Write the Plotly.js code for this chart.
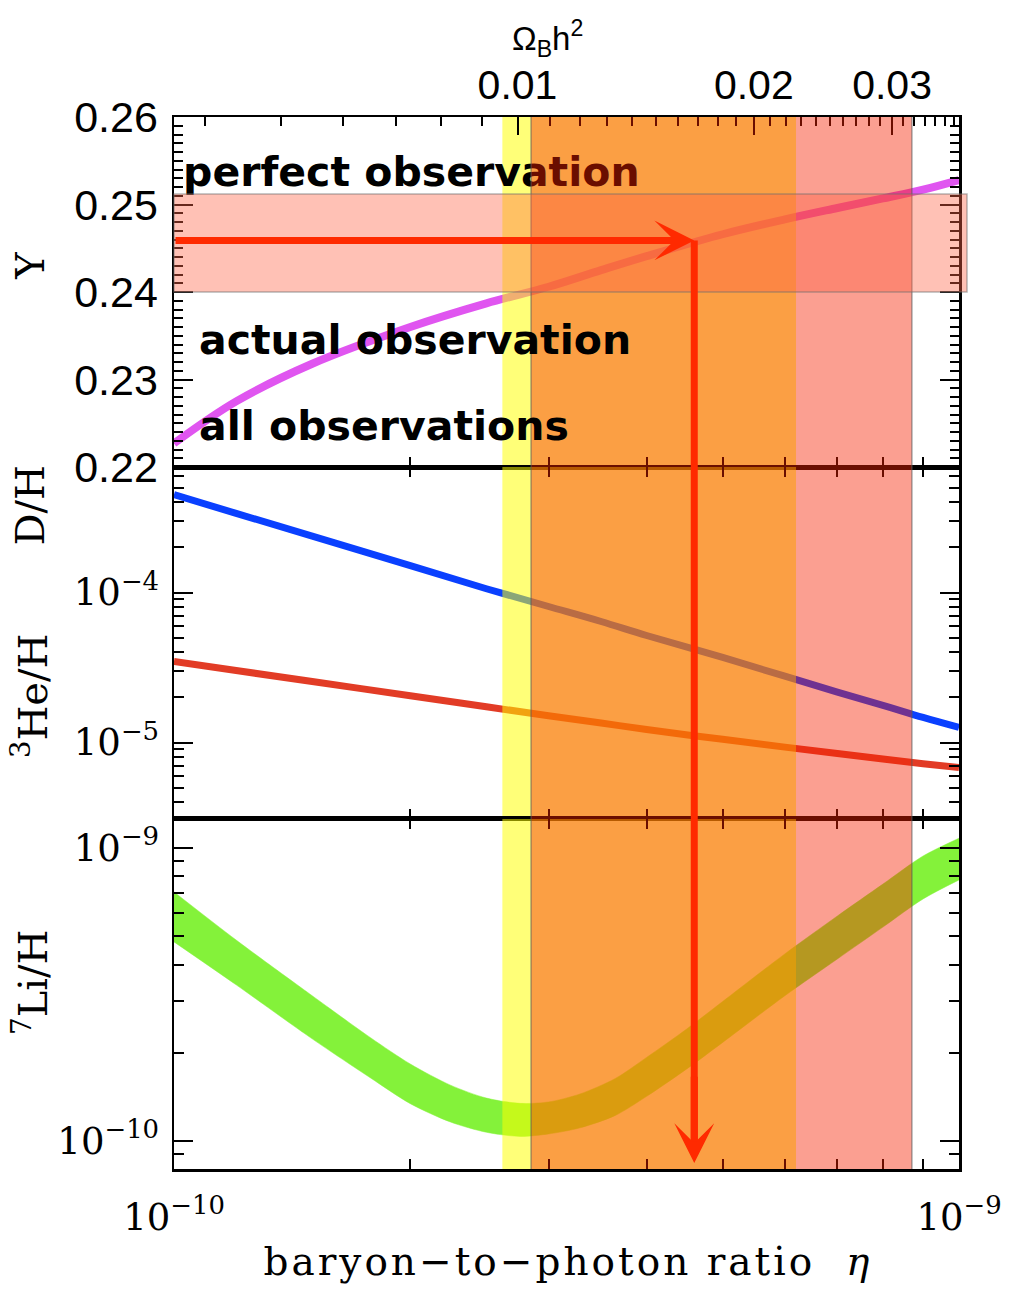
<!DOCTYPE html>
<html>
<head>
<meta charset="utf-8">
<script src="https://cdn.plot.ly/plotly-3.0.1.min.js"></script>
<style>
body{margin:0;background:#fff}
.xlabel-spaced text{letter-spacing:3px}
</style>
</head>
<body>
<div id="chart" style="width:1009px;height:1289px"></div>
<script>
// ---- data ----
const eta = [1.0e-10, 1.2e-10, 1.5e-10, 2e-10, 2.5e-10, 3e-10, 3.5e-10, 4e-10, 5e-10, 6e-10, 7e-10, 8e-10, 9e-10, 1e-9];
const heliumY = [0.2227, 0.2275, 0.2318, 0.2360, 0.2387, 0.2406, 0.2425, 0.2441, 0.2466, 0.2483, 0.2496, 0.2507, 0.2517, 0.2528];
const deuterium = [4.50e-4, 3.37e-4, 2.38e-4, 1.51e-4, 1.06e-4, 8.07e-5, 6.41e-5, 5.17e-5, 3.69e-5, 2.77e-5, 2.17e-5, 1.77e-5, 1.47e-5, 1.26e-5];
const helium3 = [3.47e-5, 3.02e-5, 2.55e-5, 2.05e-5, 1.73e-5, 1.51e-5, 1.35e-5, 1.22e-5, 1.05e-5, 9.32e-6, 8.45e-6, 7.76e-6, 7.22e-6, 6.81e-6];
const etaLi = [1.0e-10, 1.2e-10, 1.5e-10, 1.78e-10, 2.0e-10, 2.25e-10, 2.5e-10, 2.76e-10, 3.0e-10, 3.29e-10, 3.65e-10, 4.0e-10, 4.5e-10, 5e-10, 6e-10, 7e-10, 8e-10, 9e-10, 1e-9];
const lithiumHigh = [7.08e-10, 4.85e-10, 3.13e-10, 2.25e-10, 1.83e-10, 1.55e-10, 1.40e-10, 1.343e-10, 1.358e-10, 1.446e-10, 1.634e-10, 1.928e-10, 2.411e-10, 2.993e-10, 4.35e-10, 5.86e-10, 7.53e-10, 9.39e-10, 1.08e-9];
const lithiumLow = [4.78e-10, 3.41e-10, 2.23e-10, 1.64e-10, 1.34e-10, 1.16e-10, 1.07e-10, 1.036e-10, 1.056e-10, 1.108e-10, 1.222e-10, 1.419e-10, 1.761e-10, 2.169e-10, 3.13e-10, 4.18e-10, 5.37e-10, 6.70e-10, 7.78e-10];

const actualEta = [2.62e-10, 6.2e-10];      // yellow band
const allEta = [2.85e-10, 8.71e-10];        // red band
const perfectY = [0.2400, 0.2512];          // horizontal band in Y panel
const etaObs = 4.6e-10;
const yObs = 0.2459;
const liArrowTip = 8.4e-11;

const etaTickVals = [1e-10, 2e-10, 3e-10, 4e-10, 5e-10, 6e-10, 7e-10, 8e-10, 9e-10, 1e-9];
const etaTickText = ['10<sup>−10</sup>', '', '', '', '', '', '', '', '', '10<sup>−9</sup>'];
const omegaMajor = [0.01, 0.02, 0.03];
const omegaLabels = ['0.01', '0.02', '0.03'];
const ETA_PER_OMEGA = 2.739e-8;             // eta = 273.9e-10 * Omega_b h^2
const yTopTicks = [0.22, 0.23, 0.24, 0.25, 0.26];
const yTopLabels = ['0.22', '0.23', '0.24', '0.25', '0.26'];
const yMidTicks = [1e-5, 1e-4];
const yMidLabels = ['10<sup>−5</sup>', '10<sup>−4</sup>'];
const yBotTicks = [1e-10, 1e-9];
const yBotLabels = ['10<sup>−10</sup>', '10<sup>−9</sup>'];

// ---- axis ranges / helpers ----
const topRange = [0.22, 0.26];
const midRange = [-5.51, -3.163];
const botRange = [-10.096, -8.901];
const dTop = [0.6673, 1], dMid = [0.3327, 0.6673], dBot = [0, 0.3327];

function decadeMinors(lo, hi) { const out = []; for (let e = lo; e <= hi; e++) for (let m = 2; m <= 9; m++) out.push(m * Math.pow(10, e)); return out; }
const omegaMinor = []; for (let k = 4; k <= 36; k++) omegaMinor.push(k / 1000 * ETA_PER_OMEGA);
const yTopMinor = []; for (let k = 220; k <= 260; k++) yTopMinor.push(k / 1000);

const serif = 'DejaVu Serif', sans = 'Liberation Sans';
const black = 'black';

function xBase(anchor, mirror, labels) {
  return {
    type: 'log', range: [-10, -9], anchor: anchor, domain: [0, 1],
    showline: true, linecolor: black, linewidth: 2.5, mirror: mirror,
    ticks: 'inside', ticklen: 10, tickwidth: 2, tickcolor: black,
    tickmode: 'array', tickvals: etaTickVals, ticktext: etaTickText, showticklabels: labels,
    tickfont: {family: serif, size: 37, color: black}, ticklabelstandoff: 14,
    showgrid: false, zeroline: false
  };
}
function yBase(dom, anchor) {
  return {
    domain: dom, anchor: anchor, showline: true, linecolor: black, linewidth: 2.5, mirror: 'ticks',
    ticks: 'inside', ticklen: 19, tickwidth: 2, tickcolor: black,
    showgrid: false, zeroline: false, ticklabelstandoff: 5
  };
}

const traces = [
  {x: eta, y: heliumY, xaxis: 'x', yaxis: 'y', mode: 'lines', line: {color: '#E055F0', width: 8, shape: 'spline'}, hoverinfo: 'skip'},
  {x: eta, y: deuterium, xaxis: 'x2', yaxis: 'y2', mode: 'lines', line: {color: '#0A40FF', width: 7, shape: 'spline'}, hoverinfo: 'skip'},
  {x: eta, y: helium3, xaxis: 'x2', yaxis: 'y2', mode: 'lines', line: {color: '#E23C26', width: 7, shape: 'spline'}, hoverinfo: 'skip'},
  {x: etaLi, y: lithiumLow, xaxis: 'x3', yaxis: 'y3', mode: 'lines', line: {color: '#84F23A', width: 0.5, shape: 'spline', smoothing: 0.8}, hoverinfo: 'skip'},
  {x: etaLi, y: lithiumHigh, xaxis: 'x3', yaxis: 'y3', mode: 'lines', fill: 'tonexty', fillcolor: '#84F23A',
   line: {color: '#84F23A', width: 0.5, shape: 'spline', smoothing: 0.8}, hoverinfo: 'skip'},
  // yellow "actual observation" band, one per panel (above curves, below the "perfect observation" text)
  {x: [actualEta[0], actualEta[1], actualEta[1], actualEta[0], actualEta[0]], y: [topRange[0], topRange[0], topRange[1], topRange[1], topRange[0]],
   xaxis: 'x', yaxis: 'y', mode: 'lines', fill: 'toself', fillcolor: 'rgba(255,255,0,0.53)', line: {width: 0}, hoverinfo: 'skip'},
  {x: [actualEta[0], actualEta[1], actualEta[1], actualEta[0], actualEta[0]], y: [1e-6, 1e-6, 1e-3, 1e-3, 1e-6],
   xaxis: 'x2', yaxis: 'y2', mode: 'lines', fill: 'toself', fillcolor: 'rgba(255,255,0,0.53)', line: {width: 0}, hoverinfo: 'skip'},
  {x: [actualEta[0], actualEta[1], actualEta[1], actualEta[0], actualEta[0]], y: [1e-11, 1e-11, 1e-8, 1e-8, 1e-11],
   xaxis: 'x3', yaxis: 'y3', mode: 'lines', fill: 'toself', fillcolor: 'rgba(255,255,0,0.53)', line: {width: 0}, hoverinfo: 'skip'},
  {x: [1.027e-10], y: [0.2533], xaxis: 'x', yaxis: 'y', mode: 'text', text: ['<b>perfect observation</b>'],
   textposition: 'middle right', textfont: {family: 'DejaVu Sans', size: 41, color: black}, cliponaxis: false, hoverinfo: 'skip'},
  // invisible anchors so that the extra tick-only axes get drawn
  {x: [etaObs], y: [yObs], xaxis: 'x4', yaxis: 'y', mode: 'markers', marker: {opacity: 0}, hoverinfo: 'skip'},
  {x: [etaObs], y: [yObs], xaxis: 'x5', yaxis: 'y', mode: 'markers', marker: {opacity: 0}, hoverinfo: 'skip'},
  {x: [etaObs], y: [yObs], xaxis: 'x', yaxis: 'y4', mode: 'markers', marker: {opacity: 0}, hoverinfo: 'skip'}
];

const yObsPaper = dTop[0] + (yObs - topRange[0]) / (topRange[1] - topRange[0]) * (dTop[1] - dTop[0]);
const tipPaper = dBot[0] + (Math.log10(liArrowTip) - botRange[0]) / (botRange[1] - botRange[0]) * (dBot[1] - dBot[0]);
const red = '#FF2A00';

const layout = {
  width: 1009, height: 1289,
  margin: {l: 174, r: 50, t: 117, b: 120},
  paper_bgcolor: 'white', plot_bgcolor: 'rgba(0,0,0,0)', showlegend: false,
  xaxis: xBase('y', true, false),
  xaxis2: xBase('y2', 'ticks', false),
  xaxis3: xBase('y3', 'ticks', true),
  // Omega_b h^2 axis along the top: major ticks with labels
  xaxis4: {type: 'log', range: [-10, -9], overlaying: 'x', side: 'top', anchor: 'y', showline: false,
    ticks: 'inside', ticklen: 18, tickwidth: 2, tickcolor: black,
    tickmode: 'array', tickvals: omegaMajor.map(o => o * ETA_PER_OMEGA), ticktext: omegaLabels,
    tickfont: {family: sans, size: 41, color: black}, ticklabelstandoff: 9,
    showgrid: false, zeroline: false},
  // Omega_b h^2 minor ticks
  xaxis5: {type: 'log', range: [-10, -9], overlaying: 'x', side: 'top', anchor: 'y', showline: false,
    ticks: 'inside', ticklen: 9, tickwidth: 2, tickcolor: black,
    tickmode: 'array', tickvals: omegaMinor, showticklabels: false,
    showgrid: false, zeroline: false},
  yaxis: Object.assign(yBase(dTop, 'x'), {range: topRange, tickmode: 'array', tickvals: yTopTicks, ticktext: yTopLabels,
    tickfont: {family: sans, size: 43, color: black}}),
  // minor ticks of the Y panel
  yaxis4: {domain: dTop, anchor: 'x', overlaying: 'y', side: 'left', range: topRange, mirror: 'ticks', showline: false,
    ticks: 'inside', ticklen: 9, tickwidth: 2, tickcolor: black, tickmode: 'array', tickvals: yTopMinor,
    showticklabels: false, showgrid: false, zeroline: false},
  yaxis2: Object.assign(yBase(dMid, 'x2'), {type: 'log', range: midRange, tickmode: 'array', tickvals: yMidTicks, ticktext: yMidLabels,
    tickfont: {family: serif, size: 37, color: black},
    minor: {tickmode: 'array', tickvals: decadeMinors(-6, -4), ticklen: 10, tickwidth: 2, tickcolor: black, ticks: 'inside'}}),
  yaxis3: Object.assign(yBase(dBot, 'x3'), {type: 'log', range: botRange, tickmode: 'array', tickvals: yBotTicks, ticktext: yBotLabels,
    tickfont: {family: serif, size: 37, color: black},
    minor: {tickmode: 'array', tickvals: decadeMinors(-11, -9), ticklen: 10, tickwidth: 2, tickcolor: black, ticks: 'inside'}}),
  shapes: [
    {type: 'rect', layer: 'above', xref: 'x', yref: 'paper', x0: allEta[0], x1: allEta[1], y0: 0, y1: 1,
     fillcolor: 'rgba(246,33,0,0.43)', line: {width: 0}},
    {type: 'line', layer: 'above', xref: 'x', yref: 'paper', x0: allEta[0], x1: allEta[0], y0: 0, y1: 1, line: {color: 'rgba(90,90,90,0.55)', width: 1.5}},
    {type: 'line', layer: 'above', xref: 'x', yref: 'paper', x0: allEta[1], x1: allEta[1], y0: 0, y1: 1, line: {color: 'rgba(90,90,90,0.55)', width: 1.5}},
    {type: 'rect', layer: 'above', xref: 'paper', yref: 'y', x0: 0, x1: 1.0102, y0: perfectY[0], y1: perfectY[1],
     fillcolor: 'rgba(255,100,70,0.4)', line: {color: 'rgba(110,110,110,0.5)', width: 1.5}},
    {type: 'line', layer: 'above', xref: 'x', yref: 'paper', x0: etaObs, x1: etaObs, y0: yObsPaper, y1: tipPaper + 0.02,
     line: {color: red, width: 7}}
  ],
  annotations: [
    {xref: 'x', yref: 'y', x: Math.log10(etaObs), y: yObs, axref: 'x', ax: -10, ayref: 'y', ay: yObs,
     showarrow: true, arrowhead: 3, arrowsize: 0.95, arrowwidth: 7, arrowcolor: red, text: '', standoff: 0},
    {xref: 'x3', yref: 'y3', x: Math.log10(etaObs), y: Math.log10(liArrowTip), axref: 'x3', ax: Math.log10(etaObs), ayref: 'y3', ay: Math.log10(liArrowTip) + 0.3,
     showarrow: true, arrowhead: 3, arrowsize: 0.95, arrowwidth: 7, arrowcolor: red, text: '', standoff: 0},
    {xref: 'paper', yref: 'y', x: 0.029, y: 0.2345, xanchor: 'left', yanchor: 'middle', showarrow: false,
     text: '<b>actual observation</b>', font: {family: 'DejaVu Sans', size: 41, color: black}},
    {xref: 'paper', yref: 'y', x: 0.029, y: 0.2247, xanchor: 'left', yanchor: 'middle', showarrow: false,
     text: '<b>all observations</b>', font: {family: 'DejaVu Sans', size: 41, color: black}},
    {xref: 'paper', yref: 'paper', x: 0.476, y: 1.0745, xanchor: 'center', yanchor: 'middle', showarrow: false, text: 'Ω<sub>B</sub>h<sup>2</sup>',
     font: {family: sans, size: 33, color: black}},
    {xref: 'paper', yref: 'paper', x: -0.183, y: 0.859, xanchor: 'center', yanchor: 'middle', textangle: -90, showarrow: false, text: 'Y',
     font: {family: serif, size: 40, color: black}},
    {xref: 'paper', yref: 'paper', x: -0.183, y: 0.631, xanchor: 'center', yanchor: 'middle', textangle: -90, showarrow: false, text: 'D/H',
     font: {family: serif, size: 40, color: black}},
    {xref: 'paper', yref: 'paper', x: -0.183, y: 0.4496, xanchor: 'center', yanchor: 'middle', textangle: -90, showarrow: false, text: '<sup>3</sup>He/H',
     font: {family: serif, size: 40, color: black}},
    {xref: 'paper', yref: 'paper', x: -0.183, y: 0.178, xanchor: 'center', yanchor: 'middle', textangle: -90, showarrow: false, text: '<sup>7</sup>Li/H',
     font: {family: serif, size: 40, color: black}},
    {xref: 'paper', yref: 'paper', x: 0.502, y: -0.0884, xanchor: 'center', yanchor: 'middle', showarrow: false,
     text: 'baryon−to−photon ratio\u00a0\u00a0<i>η</i>', font: {family: serif, size: 39, color: black}}
  ]
};

Plotly.newPlot('chart', traces, layout, {staticPlot: true, displayModeBar: false}).then(function (gd) {
  // widen the letter spacing of the x-axis title like the original typewriter-style label
  const ann = gd.querySelectorAll('.annotation');
  const last = ann[ann.length - 1];
  if (last) last.classList.add('xlabel-spaced');
});
</script>
</body>
</html>
